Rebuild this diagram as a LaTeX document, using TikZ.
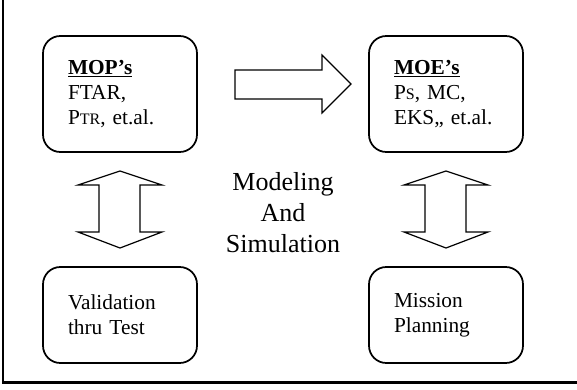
\documentclass[tikz,border=0pt]{standalone}
\usepackage{fontspec}
\setmainfont{Liberation Serif}
\newcommand{\subcap}[1]{{\fontsize{12}{12}\selectfont #1}}
\tikzset{
  box/.style={draw, line width=1.3pt, rounded corners=13pt, text width=78pt,
    inner xsep=18.75pt, align=left, font=\fontsize{16}{19}\selectfont},
  blockarrow/.style={draw, line width=0.9pt, line join=miter}
}
\begin{document}
\begin{tikzpicture}[x=0.75pt,y=-0.75pt]
    \useasboundingbox (0,0) rectangle (577,389);
    \draw[line width=1.6pt] (3,0) -- (3,382.5) -- (577,382.5);
    \node[box, minimum height=87pt] (mop) at (120,94) {\underline{\textbf{MOP’s}}\\FTAR,\\P\subcap{TR}, et.al.};
    \node[box, minimum height=87pt] (moe) at (446,94) {\underline{\textbf{MOE’s}}\\P\subcap{S}, MC,\\EKS,, et.al.};
    \node[box, minimum height=72pt] (valid) at (120,315) {Validation\\thru Test};
    \node[box, minimum height=72pt] (plan) at (446,315) {Mission\\Planning};
    \node[align=center, font=\fontsize{19.5}{23.25}\selectfont] (ms) at (283,213) {Modeling\\And\\Simulation};
    \draw[blockarrow] (235,70) -- (322,70) -- (322,55) -- (351,84) -- (322,113) -- (322,99) -- (235,99) -- cycle;
    \draw[blockarrow] (120,171) -- (162,185) -- (140,185) -- (140,232) -- (162,232) -- (120,248)
        -- (78,232) -- (99,232) -- (99,185) -- (78,185) -- cycle;
    \draw[blockarrow] (446,171) -- (488,185) -- (466,185) -- (466,232) -- (488,232) -- (446,248)
        -- (404,232) -- (425,232) -- (425,185) -- (404,185) -- cycle;
\end{tikzpicture}
\end{document}
